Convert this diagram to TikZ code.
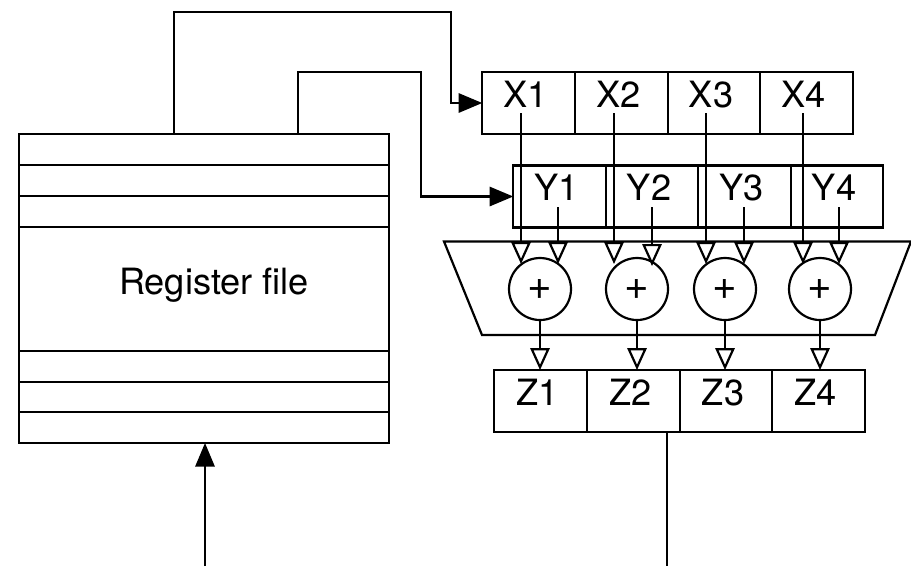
\documentclass[tikz,border=0pt]{standalone}
\usepackage{fontspec}
\setmainfont{TeX Gyre Heros}
\usepackage{tikz}
\usetikzlibrary{arrows.meta, calc}

\begin{document}
\begin{tikzpicture}[x=0.02cm, y=-0.02cm, line width=1.25pt, outer sep=0pt, font=\fontsize{20.6}{24}\selectfont,
    cell/.style={draw, minimum width=1.85cm, minimum height=1.24cm, inner sep=0pt, text height=14.7pt, text depth=10pt, execute at end node=\hspace{3.4pt}},
    adder/.style={draw, circle, minimum size=1.24cm, inner sep=0pt, font=\fontsize{24}{24}\selectfont},
    openarrow/.style={-{Triangle[open, length=12.5pt, width=11pt]}},
    solidarrow/.style={-{Triangle[length=13.5pt, width=11pt]}}]
        \useasboundingbox (0,0) rectangle (911,566);

        % register file with its rows
        \node[draw, minimum width=7.4cm, minimum height=6.18cm, inner sep=0pt] (regfile) at (204,288.5) {};
        \draw (19,165) -- (389,165);
        \draw (19,196) -- (389,196);
        \draw (19,227) -- (389,227);
        \draw (19,351) -- (389,351);
        \draw (19,382) -- (389,382);
        \draw (19,412) -- (389,412);
        \node (regname) at (214,285) {Register file};

        % adder block outline
        \draw (444,241.5) -- (911,241.5) -- (875,335) -- (482,335) -- cycle;

        % X registers
        \node[cell] (x1) at (528.5,103) {X1};
        \node[cell] (x2) at (621.5,103) {X2};
        \node[cell] (x3) at (714,103) {X3};
        \node[cell] (x4) at (806.5,103) {X4};

        % Y registers
        \node[cell] (y1) at (559.5,196.5) {Y1};
        \node[cell] (y2) at (652,196.5) {Y2};
        \node[cell] (y3) at (744.5,196.5) {Y3};
        \node[cell] (y4) at (837,196.5) {Y4};

        % Z registers
        \node[cell] (z1) at (540.5,401) {Z1};
        \node[cell] (z2) at (633.5,401) {Z2};
        \node[cell] (z3) at (726,401) {Z3};
        \node[cell] (z4) at (818.5,401) {Z4};

        % adders
        \node[adder] (add1) at (540,289) {+};
        \node[adder] (add2) at (637,289) {+};
        \node[adder] (add3) at (725,289) {+};
        \node[adder] (add4) at (820,289) {+};

        % free ends of the wires
        \coordinate (rfa) at (174,134);
        \coordinate (rfb) at (298,134);
        \coordinate (rfin) at (205,566);
        \coordinate (zout) at (667,432);
        \coordinate (zend) at (667,566);
        \coordinate (xs1) at (521,113);
        \coordinate (xs2) at (614,113);
        \coordinate (xs3) at (706,113);
        \coordinate (xs4) at (803,113);
        \coordinate (ys1) at (558,207);
        \coordinate (ys2) at (652,207);
        \coordinate (ys3) at (744,207);
        \coordinate (ys4) at (839,207);

        % wires from the register file to X and Y
        \draw[solidarrow] (rfa) -- (174,12) -- (451,12) -- (451,103) -- (x1.west);
        \draw[solidarrow] (rfb) -- (298,72) -- (421,72) -- (421,196.5) -- (y1.west);

        % operands into the adders
        \draw[openarrow] (xs1) -- (521,264);
        \draw[openarrow] (ys1) -- (558,264);
        \draw[openarrow] (xs2) -- (614,264);
        \draw[openarrow] (ys2) -- (652,266);
        \draw[openarrow] (xs3) -- (706,264);
        \draw[openarrow] (ys3) -- (744,264);
        \draw[openarrow] (xs4) -- (803,264);
        \draw[openarrow] (ys4) -- (839,264);

        % results into Z
        \draw[openarrow] (add1.south) -- (add1.south |- z1.north);
        \draw[openarrow] (add2.south) -- (add2.south |- z2.north);
        \draw[openarrow] (add3.south) -- (add3.south |- z3.north);
        \draw[openarrow] (add4.south) -- (add4.south |- z4.north);

        % Z output and the input of the register file
        \draw (zout) -- (zend);
        \draw[solidarrow] (rfin) -- (regfile.south -| rfin);
\end{tikzpicture}
\end{document}
